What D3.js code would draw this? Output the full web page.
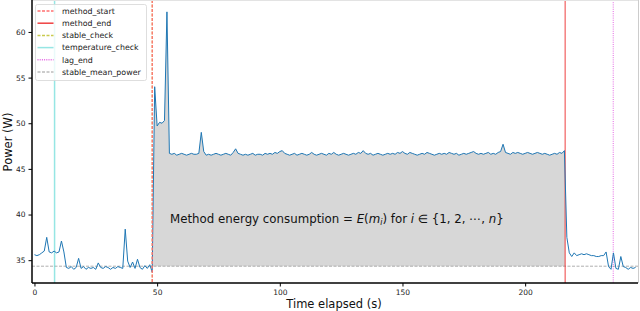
<!DOCTYPE html>
<html lang="en">
  <head>
    <meta charset="utf-8">
    <title>Power trace</title>
    <script type="text/javascript" src="https://cdn.jsdelivr.net/npm/d3@7"></script>
    <style type="text/css">
      body { margin: 0; background: #fff; }
      svg { font-family: "DejaVu Sans", sans-serif; }
      .axis path, .axis line { stroke: #000; }
      .axis text { fill: #222; font-size: 7.5px; }
    </style>
  </head>
  <body>
    <script type="text/javascript">
      // power samples, one per second (t = 0 .. 245 s)
      var power = [
        35.6, 35.5, 35.6, 35.8, 36.0, 37.5, 35.9, 35.8, 36.0, 35.8, 35.9, 37.1, 35.9,
        34.2, 34.1, 34.3, 34.0, 34.2, 35.2, 34.1, 34.3, 34.0, 34.2, 34.1, 34.2, 34.0, 34.7,
        34.2, 34.1, 34.3, 34.2, 34.0, 34.2, 34.1, 34.3, 34.2, 34.1, 38.4, 34.9, 34.2, 34.8,
        34.1, 35.1, 34.2, 34.0, 34.4, 34.1, 34.5,
        33.7, 54.0, 49.7, 50.1, 50.0, 50.3, 62.2, 46.7,
        46.6, 46.7, 46.5, 46.6, 46.7, 46.6, 46.5, 46.6, 46.7, 46.6,
        46.6, 46.7, 49.0, 46.9, 46.5, 46.6, 46.5, 46.6, 46.7, 46.6,
        46.5, 46.6, 46.7, 46.6, 46.5, 46.8, 47.2, 46.7, 46.6, 46.5,
        46.6, 46.5, 46.6, 46.7, 46.5, 46.6, 46.6, 46.5, 46.7, 46.6,
        46.7, 46.6, 46.8, 46.7, 46.9, 47.0, 46.7, 46.6, 46.5, 46.6,
        46.7, 46.5, 46.6, 46.7, 46.6, 46.5, 46.6, 46.8, 46.6, 46.5,
        46.6, 46.7, 46.6, 46.5, 46.7, 46.6, 46.8, 46.6, 46.5, 46.6,
        46.7, 46.6, 46.5, 46.6, 46.7, 46.6, 46.8, 46.7, 47.0, 46.7,
        46.6, 46.7, 46.5, 46.6, 46.7, 46.6, 46.5, 46.6, 46.7, 46.6,
        46.7, 46.6, 46.8, 46.7, 46.9, 46.7, 46.6, 46.8, 46.7, 46.6,
        46.5, 46.6, 46.7, 46.6, 46.8, 46.7, 46.6, 46.5, 46.6, 46.7,
        46.6, 46.7, 46.6, 46.8, 46.7, 46.6, 46.7, 46.5, 46.6, 46.7,
        46.6, 46.7, 46.8, 46.9, 46.7, 46.6, 46.7, 46.6, 46.7, 46.8,
        46.6, 46.7, 46.6, 46.8, 46.9, 47.7, 46.8, 46.7, 46.6, 46.8,
        46.7, 46.8, 46.7, 46.6, 46.7, 46.8, 46.7, 46.6, 46.7, 46.8,
        46.7, 46.6, 46.7, 46.6, 46.5, 46.6, 46.7, 46.6, 46.8, 46.7,
        47.0,
        37.5, 35.8, 35.4, 35.8, 35.5, 35.6, 35.7, 35.6, 35.7, 35.6, 35.5, 35.5, 35.4, 35.4,
        35.5, 35.5, 35.9, 34.3, 34.0, 35.8, 34.1, 34.0, 35.4, 34.3, 34.2, 34.0, 34.2, 34.1, 34.2
      ];
      var sampleStep = 1; // seconds between samples

      // event markers (s) and stable mean power (W)
      var markerNames = ["method_start", "method_end", "stable_check", "temperature_check", "lag_end", "stable_mean_power"];
      var markerTimes = [48.0, 216.3, 48.0, 8.2, 235.9, null];
      var stableMeanPower = 34.34;

      var xTicks = [0, 50, 100, 150, 200];
      var yTicks = [35, 40, 45, 50, 55, 60];

      var width = 640, height = 311;
      var margin = {top: 0, right: 2, bottom: 28, left: 32};

      var data = power.map(function(p, i) { return {t: i * sampleStep, p: p}; });

      var x = d3.scaleLinear().domain([-1, 246]).range([margin.left, width - margin.right]);
      var y = d3.scaleLinear().domain([32.5, 63.5]).range([height - margin.bottom, margin.top]);

      var svg = d3.select("body").append("svg")
        .attr("width", width)
        .attr("height", height);

      svg.append("defs").append("clipPath").attr("id", "methodClip")
        .append("rect")
        .attr("x", x(markerTimes[0]))
        .attr("y", 0)
        .attr("width", x(markerTimes[1]) - x(markerTimes[0]))
        .attr("height", height);

      svg.append("defs").append("clipPath").attr("id", "plotClip")
        .append("rect")
        .attr("x", margin.left).attr("y", margin.top)
        .attr("width", width - margin.left - margin.right)
        .attr("height", height - margin.top - margin.bottom);

      var plot = svg.append("g").attr("clip-path", "url(#plotClip)");

      // energy area between curve and stable mean
      var area = d3.area()
        .x(function(d) { return x(d.t); })
        .y0(y(stableMeanPower))
        .y1(function(d) { return y(d.p); });

      plot.append("path")
        .datum(data.filter(function(d) { return d.t >= 47 && d.t <= 218; }))
        .attr("clip-path", "url(#methodClip)")
        .attr("fill", "#d7d7d7")
        .attr("d", area);

      // marker styles
      var styles = {
        method_start: {color: "#ff7070", dash: "3,1.5", w: 1},
        method_end: {color: "rgba(235,30,30,0.85)", dash: null, w: 1},
        stable_check: {color: "rgba(188,189,34,0.8)", dash: "3,1.5", w: 1},
        temperature_check: {color: "rgba(64,210,205,0.55)", dash: null, w: 1.5},
        lag_end: {color: "rgba(210,0,210,0.6)", dash: "1,1.2", w: 1},
        stable_mean_power: {color: "#999", dash: "3,1.5", w: 0.8}
      };

      plot.append("line")
        .attr("x1", margin.left).attr("x2", width - margin.right)
        .attr("y1", y(stableMeanPower)).attr("y2", y(stableMeanPower))
        .attr("stroke", styles.stable_mean_power.color)
        .attr("stroke-width", styles.stable_mean_power.w)
        .attr("stroke-dasharray", styles.stable_mean_power.dash);

      var order = [2, 3, 4, 1];
      order.forEach(function(i) {
        var s = styles[markerNames[i]];
        plot.append("line")
          .attr("x1", x(markerTimes[i])).attr("x2", x(markerTimes[i]))
          .attr("y1", margin.top).attr("y2", height - margin.bottom)
          .attr("stroke", s.color)
          .attr("stroke-width", s.w)
          .attr("stroke-dasharray", s.dash);
      });

      // power curve
      var line = d3.line()
        .x(function(d) { return x(d.t); })
        .y(function(d) { return y(d.p); });

      plot.append("path")
        .datum(data)
        .attr("fill", "none")
        .attr("stroke", "#1f77b4")
        .attr("stroke-width", 1)
        .attr("stroke-linejoin", "round")
        .attr("d", line);

      // method start drawn above the curve (covers stable_check at the same time)
      var ms = styles.method_start;
      plot.append("line")
        .attr("x1", x(markerTimes[0])).attr("x2", x(markerTimes[0]))
        .attr("y1", margin.top).attr("y2", height - margin.bottom)
        .attr("stroke", ms.color)
        .attr("stroke-width", 1.3)
        .attr("stroke-dasharray", ms.dash);

      // annotation
      var note = svg.append("text")
        .attr("x", 170)
        .attr("y", 223)
        .attr("font-size", "11.8px")
        .attr("fill", "#111");
      note.append("tspan").text("Method energy consumption = ");
      note.append("tspan").attr("font-style", "italic").text("E");
      note.append("tspan").text("(");
      note.append("tspan").attr("font-style", "italic").text("m");
      note.append("tspan").attr("font-style", "italic").attr("font-size", "8px").attr("dy", 2).text("i");
      note.append("tspan").attr("dy", -2).text(") for ");
      note.append("tspan").attr("font-style", "italic").text("i");
      note.append("tspan").text(" \u2208 {1, 2, \u22ef, ");
      note.append("tspan").attr("font-style", "italic").text("n");
      note.append("tspan").text("}");

      // frame
      svg.append("line")
        .attr("x1", width - margin.right + 0.5).attr("x2", width - margin.right + 0.5)
        .attr("y1", 0).attr("y2", height - margin.bottom)
        .attr("stroke", "#ccc").attr("stroke-width", 1);
      svg.append("line")
        .attr("x1", margin.left).attr("x2", width - margin.right)
        .attr("y1", 0.5).attr("y2", 0.5)
        .attr("stroke", "#e3e3e3").attr("stroke-width", 1);

      // axes
      var xAxis = d3.axisBottom(x).tickValues(xTicks).tickSize(3.5).tickPadding(3);
      var yAxis = d3.axisLeft(y).tickValues(yTicks).tickSize(3.5).tickPadding(3);

      svg.append("g")
        .attr("class", "x axis")
        .attr("transform", "translate(0," + (height - margin.bottom) + ")")
        .call(xAxis)
        .call(function(g) { g.select(".domain").attr("stroke-width", 1.5).attr("d", "M" + margin.left + ",0H" + (width - margin.right)); });

      svg.append("g")
        .attr("class", "y axis")
        .attr("transform", "translate(" + margin.left + ",0)")
        .call(yAxis)
        .call(function(g) { g.select(".domain").attr("stroke-width", 1.5).attr("d", "M0," + margin.top + "V" + (height - margin.bottom)); });

      svg.selectAll(".axis text").attr("font-family", "DejaVu Sans, sans-serif");

      // axis labels
      svg.append("text")
        .attr("x", 334)
        .attr("y", 308)
        .attr("text-anchor", "middle")
        .attr("font-size", "11.5px")
        .attr("fill", "#111")
        .text("Time elapsed (s)");

      svg.append("text")
        .attr("transform", "translate(12,142) rotate(-90)")
        .attr("text-anchor", "middle")
        .attr("font-size", "11.5px")
        .attr("fill", "#111")
        .text("Power (W)");

      // legend
      var legend = svg.append("g").attr("transform", "translate(35.5,4.5)");
      legend.append("rect")
        .attr("width", 111).attr("height", 76).attr("rx", 2)
        .attr("fill", "#fff").attr("fill-opacity", 0.8)
        .attr("stroke", "#d5d5d5").attr("stroke-width", 0.8);

      markerNames.forEach(function(name, i) {
        var s = styles[name];
        var row = legend.append("g").attr("transform", "translate(0," + (6.5 + i * 12.2) + ")");
        row.append("line")
          .attr("x1", 2).attr("x2", 18)
          .attr("stroke", s.color)
          .attr("stroke-width", name === "stable_mean_power" ? 1 : 1.5)
          .attr("stroke-dasharray", s.dash);
        row.append("text")
          .attr("x", 26.5)
          .attr("y", 2.8)
          .attr("font-size", "7.9px")
          .attr("fill", "#222")
          .text(name);
      });
    </script>
  </body>
</html>
